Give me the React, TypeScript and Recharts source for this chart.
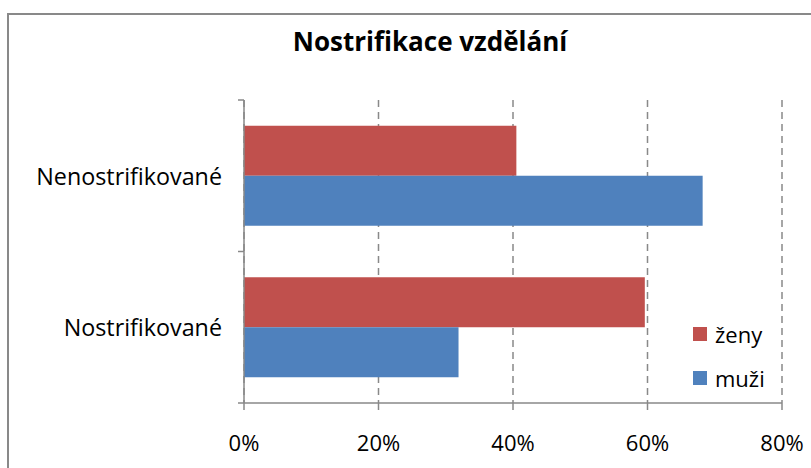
import React from "react";
import {
  BarChart,
  Bar,
  XAxis,
  YAxis,
  CartesianGrid,
  Legend,
} from "recharts";

const categories = ["Nenostrifikované", "Nostrifikované"];
const zeny = [40.5, 59.6];
const muzi = [68.2, 31.9];
const xTicks = [0, 20, 40, 60, 80];

const series = [
  { key: "zeny", label: "ženy", color: "#C0504D" },
  { key: "muzi", label: "muži", color: "#4F81BD" },
];

const data = categories.map((name, i) => ({
  name,
  zeny: zeny[i],
  muzi: muzi[i],
}));

const FONT = "'Open Sans', sans-serif";
const AXIS = "#898989";

function CategoryTick(props: any) {
  const { x, y, payload, index, visibleTicksCount } = props;
  const off = payload?.offset ?? 0;
  const isLast = index === visibleTicksCount - 1;
  return (
    <g>
      <line x1={x - 6} x2={x} y1={y - off} y2={y - off} stroke={AXIS} strokeWidth={1.5} />
      {isLast && (
        <line x1={x - 6} x2={x} y1={y + off} y2={y + off} stroke={AXIS} strokeWidth={1.5} />
      )}
      <text
        x={x - 22}
        y={y}
        textAnchor="end"
        dominantBaseline="central"
        fontSize={23.3}
        fontFamily={FONT}
        fill="#000"
      >
        {payload.value}
      </text>
    </g>
  );
}

function LegendBox() {
  return (
    <div style={{ fontFamily: FONT, fontSize: 22, color: "#000" }}>
      {series.map((s) => (
        <div
          key={s.key}
          style={{ display: "flex", alignItems: "center", height: 44 }}
        >
          <span
            style={{
              display: "inline-block",
              width: 14,
              height: 14,
              background: s.color,
              marginRight: 8,
            }}
          />
          <span>{s.label}</span>
        </div>
      ))}
    </div>
  );
}

export default function App() {
  return (
    <div
      style={{
        position: "absolute",
        left: 0,
        top: 0,
        width: 811,
        height: 468,
        overflow: "hidden",
        background: "#fff",
      }}
    >
      <div
        style={{
          position: "absolute",
          left: 7,
          top: 13,
          width: 830,
          height: 480,
          border: `2px solid ${AXIS}`,
        }}
      />
      <div
        style={{
          position: "absolute",
          left: 230,
          width: 400,
          top: 26,
          textAlign: "center",
          fontFamily: FONT,
          fontWeight: "bold",
          fontSize: 26,
          color: "#000",
          lineHeight: 1.2,
        }}
      >
        Nostrifikace vzdělání
      </div>
      <div style={{ position: "absolute", left: 0, top: 0 }}>
        <BarChart
          width={811}
          height={468}
          data={data}
          layout="vertical"
          margin={{ top: 100, right: 29, left: 0, bottom: 0 }}
          barCategoryGap="17%"
          barGap={0}
        >
          <CartesianGrid
            horizontal={false}
            stroke={AXIS}
            strokeWidth={1.5}
            strokeDasharray="7 5"
          />
          <XAxis
            type="number"
            domain={[0, 80]}
            ticks={xTicks}
            tickFormatter={(v) => `${v}%`}
            axisLine={{ stroke: AXIS, strokeWidth: 1.5 }}
            tickLine={{ stroke: AXIS, strokeWidth: 1.5 }}
            tickSize={7}
            tickMargin={25}
            height={65}
            tick={{ fontSize: 22, fontFamily: FONT, fill: "#000" }}
          />
          <YAxis
            type="category"
            dataKey="name"
            width={244}
            axisLine={{ stroke: AXIS, strokeWidth: 1.5 }}
            tickLine={false}
            tickSize={0}
            tickMargin={0}
            tick={<CategoryTick />}
          />
          <Legend
            layout="vertical"
            align="center"
            verticalAlign="middle"
            wrapperStyle={{ left: 693, top: 312, width: 90 }}
            content={() => <LegendBox />}
          />
          {series.map((s) => (
            <Bar
              key={s.key}
              dataKey={s.key}
              name={s.label}
              fill={s.color}
              isAnimationActive={false}
            />
          ))}
        </BarChart>
      </div>
    </div>
  );
}
